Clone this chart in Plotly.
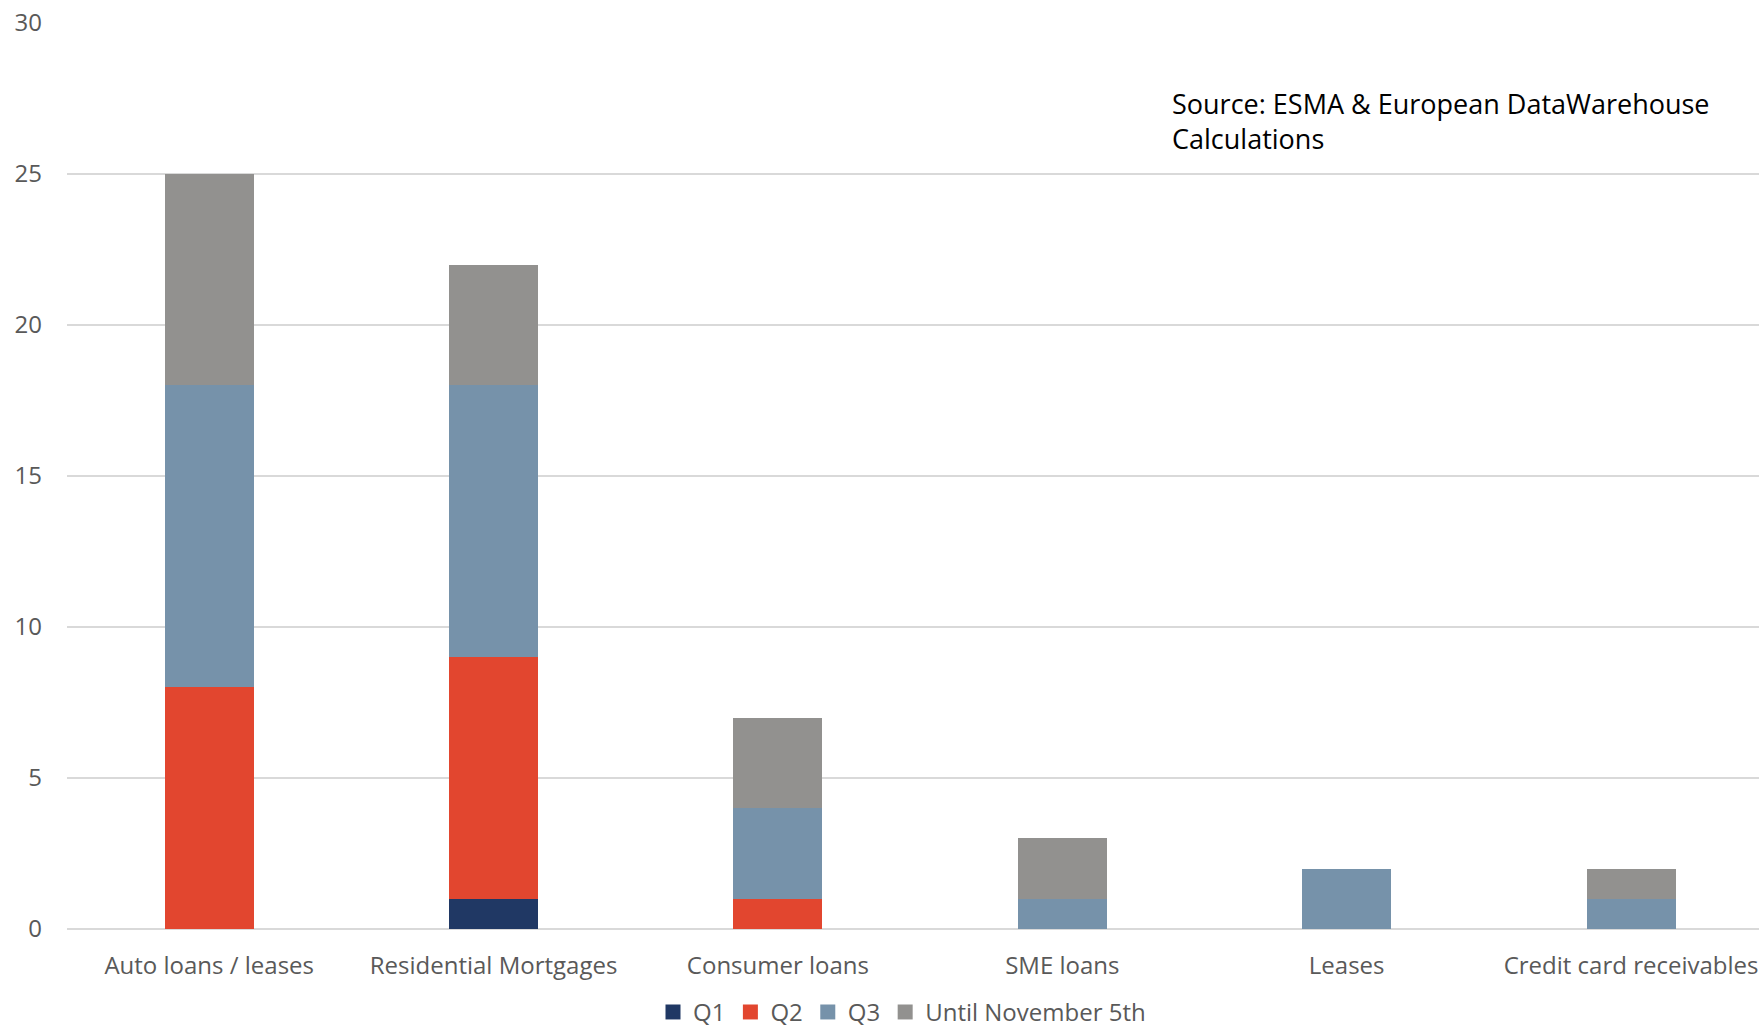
import plotly.graph_objects as go

categories = ["Auto loans / leases", "Residential Mortgages", "Consumer loans",
              "SME loans", "Leases", "Credit card receivables"]
q1 = [0, 1, 0, 0, 0, 0]
q2 = [8, 8, 1, 0, 0, 0]
q3 = [10, 9, 3, 1, 2, 1]
until_nov5 = [7, 4, 3, 2, 0, 1]

series = [
    ("Q1", q1, "#203864"),
    ("Q2", q2, "#E2462F"),
    ("Q3", q3, "#7692AA"),
    ("Until November 5th", until_nov5, "#92918F"),
]

fig = go.Figure()
for name, vals, color in series:
    fig.add_trace(go.Bar(
        x=categories, y=vals, name=name, legendgroup=name, showlegend=False,
        marker=dict(color=color, line=dict(width=0)),
        width=0.313,
    ))
# legend entries drawn as larger square swatches
for name, vals, color in series:
    fig.add_trace(go.Scatter(
        x=[None], y=[None], mode="markers", name=name, legendgroup=name,
        marker=dict(symbol="square", size=15, color=color),
    ))

fig.add_annotation(
    text="Source: ESMA & European DataWarehouse<br>Calculations",
    xref="paper", yref="paper", x=0.652, y=0.892,
    xanchor="left", yanchor="middle", showarrow=False, align="left",
    font=dict(family="Open Sans", size=27, color="#000000"),
)

fig.update_layout(
    width=1759, height=1032,
    barmode="stack",
    plot_bgcolor="white", paper_bgcolor="white",
    margin=dict(l=67, r=0, t=23, b=103, autoexpand=False),
    font=dict(family="Open Sans", size=24, color="#595959"),
    showlegend=True,
    legend=dict(orientation="h", x=0.4935, xanchor="center", y=-0.092, yanchor="middle",
                font=dict(size=24, color="#595959"), traceorder="normal",
                itemwidth=30, tracegroupgap=0),
)
fig.update_xaxes(
    range=[-0.5, 5.45], showgrid=False, showline=False, zeroline=False,
    ticklabelstandoff=20, automargin=False,
)
fig.update_yaxes(
    range=[0, 30], dtick=5, showgrid=True, gridcolor="#D9D9D9", gridwidth=2,
    zeroline=True, zerolinecolor="#D9D9D9", zerolinewidth=2,
    showline=False, ticklabelstandoff=24, automargin=False,
)

fig.write_html("out.html")
